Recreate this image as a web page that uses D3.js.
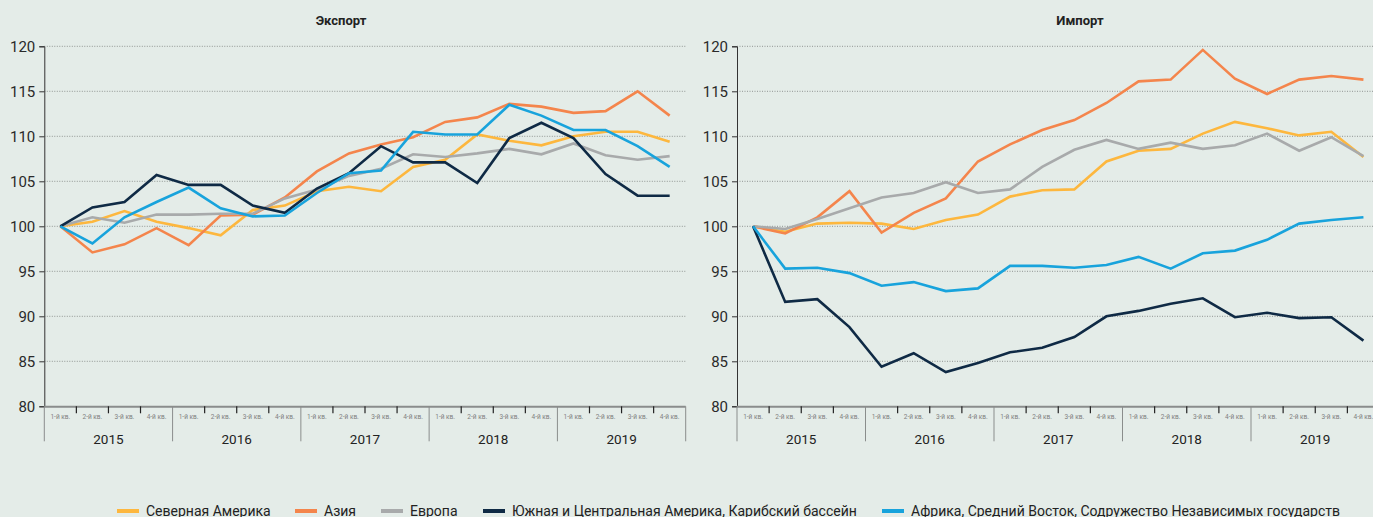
<!DOCTYPE html>
<html>
<head>
<meta charset="utf-8">
<script src="https://cdn.jsdelivr.net/npm/d3@7"></script>
<style>
  html, body { margin: 0; padding: 0; background: #e4ece8; }
  svg { display: block; font-family: Roboto, "Noto Sans", sans-serif; }
</style>
</head>
<body>
<svg id="chart" width="1373" height="517"></svg>
<script>
const quarters = ["1-й кв.", "2-й кв.", "3-й кв.", "4-й кв."];
const years = ["2015", "2016", "2017", "2018", "2019"];
const yTicks = [80, 85, 90, 95, 100, 105, 110, 115, 120];

const seriesNames = ["Северная Америка", "Азия", "Европа",
  "Южная и Центральная Америка, Карибский бассейн",
  "Африка, Средний Восток, Содружество Независимых государств"];
const seriesColors = ["#fdb73e", "#f4854c", "#a8aaab", "#0f2a45", "#18a3dc"];

// Экспорт
const exportNorthAmerica = [100, 100.5, 101.7, 100.5, 99.8, 99.0, 101.8, 102.3, 103.9, 104.4, 103.9, 106.6, 107.4, 110.2, 109.5, 109.0, 110.0, 110.5, 110.5, 109.4];
const exportAsia = [100, 97.1, 98.0, 99.8, 97.9, 101.2, 101.3, 103.2, 106.1, 108.1, 109.1, 109.9, 111.6, 112.1, 113.6, 113.3, 112.6, 112.8, 115.0, 112.3];
const exportEurope = [100, 101.0, 100.4, 101.3, 101.3, 101.4, 101.4, 103.1, 104.1, 105.6, 106.4, 108.0, 107.7, 108.1, 108.6, 108.0, 109.2, 107.9, 107.4, 107.8];
const exportLatAm = [100, 102.1, 102.7, 105.7, 104.6, 104.6, 102.3, 101.5, 104.2, 105.9, 108.9, 107.1, 107.1, 104.8, 109.8, 111.5, 109.8, 105.8, 103.4, 103.4];
const exportAfrica = [100, 98.1, 101.0, 102.7, 104.3, 102.0, 101.1, 101.2, 103.7, 105.9, 106.2, 110.5, 110.2, 110.2, 113.5, 112.3, 110.7, 110.7, 108.9, 106.6];

// Импорт
const importNorthAmerica = [100, 99.4, 100.3, 100.4, 100.3, 99.7, 100.7, 101.3, 103.3, 104.0, 104.1, 107.2, 108.4, 108.6, 110.3, 111.6, 110.9, 110.1, 110.5, 107.7];
const importAsia = [100, 99.2, 101.0, 103.9, 99.3, 101.5, 103.1, 107.2, 109.1, 110.7, 111.8, 113.7, 116.1, 116.3, 119.6, 116.4, 114.7, 116.3, 116.7, 116.3];
const importEurope = [100, 99.7, 100.8, 102.0, 103.2, 103.7, 104.9, 103.7, 104.1, 106.6, 108.5, 109.6, 108.6, 109.3, 108.6, 109.0, 110.3, 108.4, 109.9, 107.8];
const importLatAm = [100, 91.6, 91.9, 88.8, 84.4, 85.9, 83.8, 84.8, 86.0, 86.5, 87.7, 90.0, 90.6, 91.4, 92.0, 89.9, 90.4, 89.8, 89.9, 87.3];
const importAfrica = [100, 95.3, 95.4, 94.8, 93.4, 93.8, 92.8, 93.1, 95.6, 95.6, 95.4, 95.7, 96.6, 95.3, 97.0, 97.3, 98.5, 100.3, 100.7, 101.0];

const svg = d3.select("#chart");

const y = d3.scaleLinear().domain([80, 120]).range([406.3, 46.3]);
const periods = d3.range(years.length * quarters.length);

function drawPanel(title, titleX, x0, x1, gridEnd, series) {
    const x = d3.scaleBand().domain(periods).range([x0, x1]).padding(0);
    const g = svg.append("g");

    g.append("text")
        .attr("x", titleX).attr("y", 25)
        .attr("text-anchor", "middle")
        .attr("font-weight", "bold")
        .attr("font-size", 13)
        .attr("fill", "#222")
        .text(title);

    // dotted grid
    g.selectAll(".grid")
        .data(yTicks.filter(d => d > 80))
        .enter().append("line")
        .attr("x1", x0).attr("x2", gridEnd)
        .attr("y1", d => y(d)).attr("y2", d => y(d))
        .attr("stroke", "#8f9491")
        .attr("stroke-width", 1)
        .attr("stroke-dasharray", "1,1.5");

    // y axis
    const yAxis = g.append("g")
        .attr("transform", `translate(${x0},0)`)
        .call(d3.axisLeft(y).tickValues(yTicks).tickSize(5).tickPadding(4));
    yAxis.select(".domain").attr("stroke", "#333");
    yAxis.selectAll(".tick line").attr("stroke", "#333");
    yAxis.selectAll(".tick text")
        .attr("font-size", 15)
        .attr("fill", "#2a2a2a")
        .attr("font-family", "Roboto, sans-serif");

    // x axis baseline
    g.append("line")
        .attr("x1", x0).attr("x2", Math.min(x1, 1373))
        .attr("y1", y(80) + 0.5).attr("y2", y(80) + 0.5)
        .attr("stroke", "#8a8d8c").attr("stroke-width", 2);

    // quarter ticks and year separators
    periods.forEach(i => {
        const xs = x(i);
        const isYear = i % 4 === 0;
        g.append("line")
            .attr("x1", xs).attr("x2", xs)
            .attr("y1", y(80)).attr("y2", isYear ? y(80) + 35 : y(80) + 7)
            .attr("stroke", isYear ? "#8a8d8c" : "#222")
            .attr("stroke-width", isYear ? 1 : 1.2);
    });
    g.append("line")
        .attr("x1", x1).attr("x2", x1)
        .attr("y1", y(80)).attr("y2", y(80) + 35)
        .attr("stroke", "#8a8d8c");

    g.selectAll(".qlabel")
        .data(periods)
        .enter().append("text")
        .attr("x", d => x(d) + x.bandwidth() / 2)
        .attr("y", y(80) + 13)
        .attr("text-anchor", "middle")
        .attr("font-size", 6.5)
        .attr("fill", "#808080")
        .text(d => quarters[d % 4]);

    g.selectAll(".ylabel")
        .data(years)
        .enter().append("text")
        .attr("x", (d, i) => x(i * 4) + x.bandwidth() * 2)
        .attr("y", y(80) + 38)
        .attr("text-anchor", "middle")
        .attr("font-size", 13.5)
        .attr("fill", "#222")
        .text(d => d);

    const line = d3.line()
        .x((d, i) => x(i) + x.bandwidth() / 2)
        .y(d => y(d));

    series.forEach((s, k) => {
        g.append("path")
            .datum(s)
            .attr("d", line)
            .attr("fill", "none")
            .attr("stroke", seriesColors[k])
            .attr("stroke-width", 2.6)
            .attr("stroke-linejoin", "miter");
    });
}

drawPanel("Экспорт", 341, 44.3, 685.7, 686,
    [exportNorthAmerica, exportAsia, exportEurope, exportLatAm, exportAfrica]);
drawPanel("Импорт", 1080, 737, 1379.5, 1373,
    [importNorthAmerica, importAsia, importEurope, importLatAm, importAfrica]);

// legend
const legendX = [117, 295, 381, 483, 882];
const legend = svg.append("g");
seriesNames.forEach((name, k) => {
    legend.append("rect")
        .attr("x", legendX[k]).attr("y", 509)
        .attr("width", 22).attr("height", 4)
        .attr("fill", seriesColors[k]);
    legend.append("text")
        .attr("x", legendX[k] + 29).attr("y", 515.5)
        .attr("font-size", 14)
        .attr("fill", "#222")
        .text(name);
});
</script>
</body>
</html>
